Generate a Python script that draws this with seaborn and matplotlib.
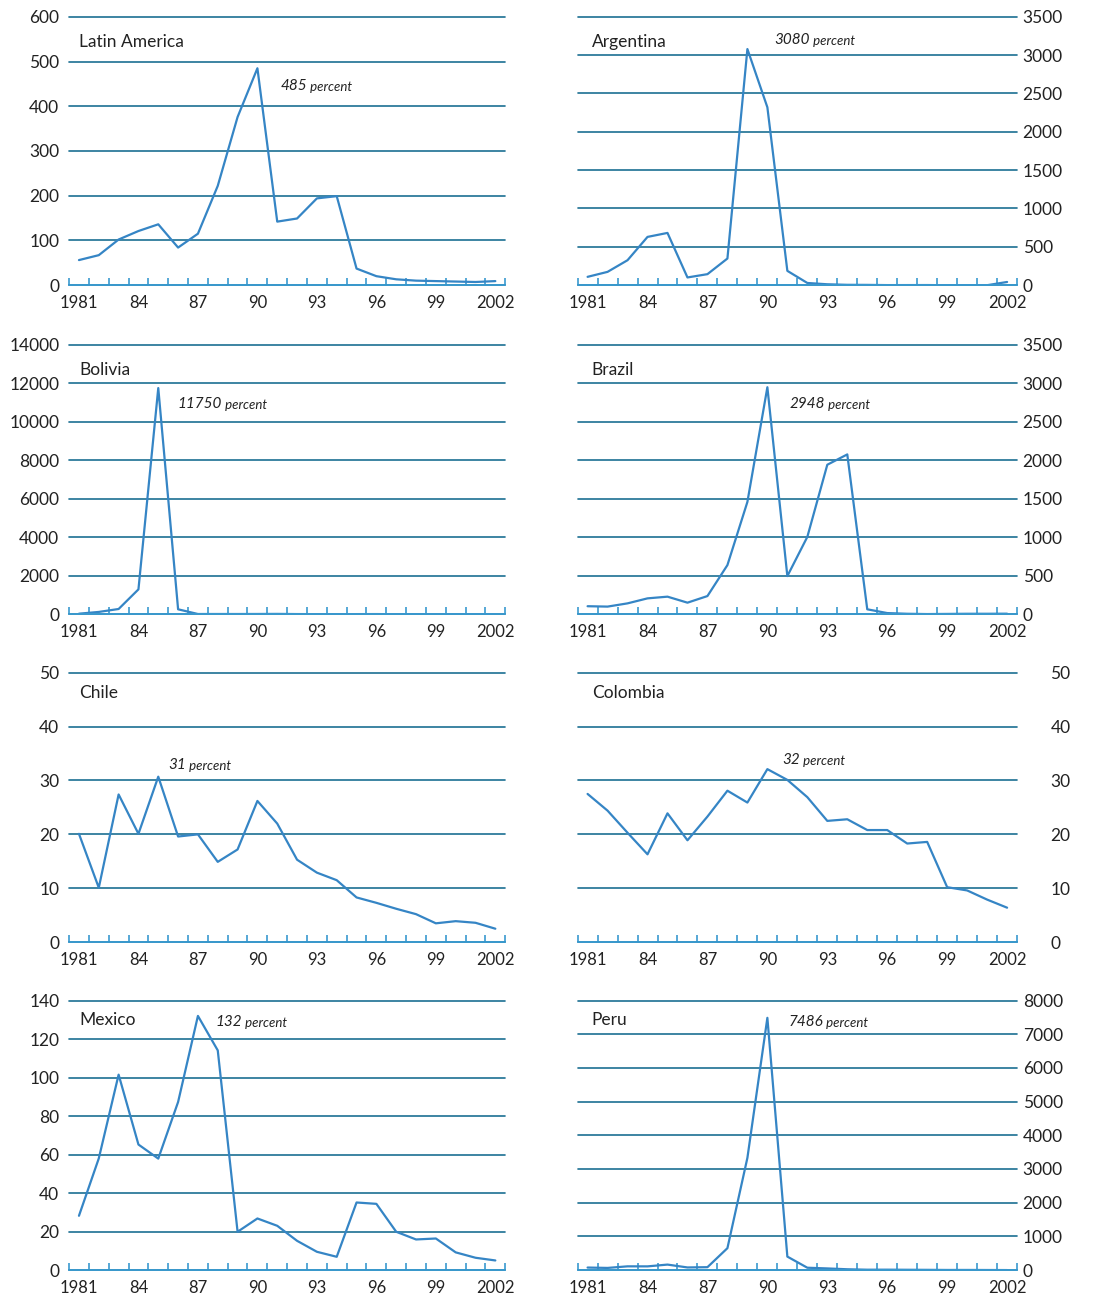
import numpy as np
import pandas as pd
import matplotlib
matplotlib.use("Agg")
import matplotlib.pyplot as plt
import seaborn as sns

years = list(range(1981, 2003))

latin_america = [56, 67, 102, 121, 136, 84, 115, 222, 376, 485, 142, 149, 194, 199,
                 37, 20, 13, 10, 9, 8, 7, 9]
argentina = [108, 173, 325, 629, 681, 100, 143, 347, 3080, 2320, 186, 28, 11, 4,
             3, 0.2, 0.5, 0.9, -1.2, -0.9, -1.1, 41]
bolivia = [32, 123, 276, 1295, 11750, 260, 15, 16, 15, 17, 21, 12, 8.5, 7.9,
           10, 12, 4.7, 7.7, 2.2, 4.6, 1.6, 0.9]
brazil = [105, 100, 142, 207, 229, 151, 237, 639, 1459, 2948, 496, 1005, 1942, 2076,
          65, 16, 7, 3, 5, 7, 7, 8]
chile = [20.1, 10.1, 27.4, 20.1, 30.7, 19.6, 20.0, 14.9, 17.2, 26.2, 22.0, 15.3, 12.9, 11.5,
         8.3, 7.3, 6.2, 5.2, 3.5, 3.9, 3.6, 2.5]
colombia = [27.5, 24.4, 20.3, 16.3, 23.9, 18.9, 23.3, 28.1, 25.9, 32.1, 30.1, 26.9, 22.5, 22.8,
            20.8, 20.8, 18.3, 18.6, 10.2, 9.6, 7.9, 6.4]
mexico = [28.2, 58, 101.5, 65.2, 57.9, 87.3, 132, 114.1, 19.9, 26.8, 23.0, 15.2, 9.5, 6.9,
          35.1, 34.4, 19.9, 15.9, 16.4, 9.2, 6.4, 5.0]
peru = [75, 64, 111, 110, 163, 78, 86, 650, 3330, 7486, 400, 70, 49, 24,
        11, 12, 9, 7, 3.5, 3.8, 2.0, 0.2]

panel_names = ["Latin America", "Argentina", "Bolivia", "Brazil",
               "Chile", "Colombia", "Mexico", "Peru"]
panel_values = [latin_america, argentina, bolivia, brazil, chile, colombia, mexico, peru]
panel_ymax = [600, 3500, 14000, 3500, 50, 50, 140, 8000]
panel_step = [100, 500, 2000, 500, 10, 10, 20, 1000]
panel_peak = ["485", "3080", "11750", "2948", "31", "32", "132", "7486"]

xtick_pos = [1981, 1984, 1987, 1990, 1993, 1996, 1999, 2002]
xtick_lbl = ["1981", "84", "87", "90", "93", "96", "99", "2002"]

# layout (figure fractions / axes fractions)
col_left = [0.063, 0.527]
col_width = [0.398, 0.401]
row_bottom = [0.780, 0.526, 0.273, 0.020]
row_height = [0.207, 0.208, 0.208, 0.208]
title_y = [0.907, 0.907, 0.907, 0.907, 0.926, 0.926, 0.926, 0.926]
title_x = [0.023, 0.032]
ann_xy = [(0.484, 0.743), (0.448, 0.914), (0.248, 0.781), (0.482, 0.781),
          (0.227, 0.659), (0.466, 0.677), (0.335, 0.922), (0.480, 0.922)]
ypad = [7, 4, 7, 4, 7, 24, 7, 4]

grid_color = "#1b6f92"
axis_color = "#3a9ad0"
line_color = "#3585c5"
text_color = "#222222"

sns.set_theme(style="white")
plt.rcParams["font.family"] = ["Lato", "DejaVu Sans"]

fig = plt.figure(figsize=(10.96, 12.96), dpi=100)

for i, name in enumerate(panel_names):
    r, c = divmod(i, 2)
    ax = fig.add_axes([col_left[c], row_bottom[r], col_width[c], row_height[r]])
    df = pd.DataFrame({"year": years, "value": panel_values[i]})
    sns.lineplot(data=df, x="year", y="value", ax=ax, color=line_color,
                 linewidth=1.6, legend=False)
    ax.set_xlim(1980.5, 2002.5)
    ax.set_ylim(0, panel_ymax[i])
    ax.set_yticks(np.arange(0, panel_ymax[i] + panel_step[i] / 2, panel_step[i]))
    ax.set_xticks(xtick_pos)
    ax.set_xticklabels(xtick_lbl)
    ax.set_xticks(np.arange(1980.5, 2003, 1.0), minor=True)
    ax.set_xlabel("")
    ax.set_ylabel("")
    for s in ["top", "left", "right"]:
        ax.spines[s].set_visible(False)
    ax.spines["bottom"].set_color(axis_color)
    ax.spines["bottom"].set_linewidth(1.3)
    ax.grid(axis="y", color=grid_color, linewidth=1.2)
    ax.grid(axis="x", visible=False)
    for gl in ax.get_ygridlines():
        gl.set_clip_on(False)
    ax.tick_params(axis="x", which="major", length=0, pad=7,
                   labelsize=12, labelcolor=text_color)
    ax.tick_params(axis="x", which="minor", direction="in", length=5,
                   width=1.2, color=axis_color, bottom=True)
    if c == 1:
        ax.yaxis.tick_right()
    ax.tick_params(axis="y", length=0, pad=ypad[i], labelsize=12.5,
                   labelcolor=text_color)
    ax.text(title_x[c], title_y[i], name, transform=ax.transAxes,
            fontsize=12.5, color=text_color, ha="left", va="center")
    t = ax.text(ann_xy[i][0], ann_xy[i][1], panel_peak[i], transform=ax.transAxes,
                fontsize=11, style="italic", color=text_color, ha="left", va="center")
    ax.annotate(" percent", xy=(1, 0), xycoords=t, fontsize=9.5, style="italic",
                color=text_color, ha="left", va="bottom")

fig.savefig("out.png", dpi=100, facecolor="white")
